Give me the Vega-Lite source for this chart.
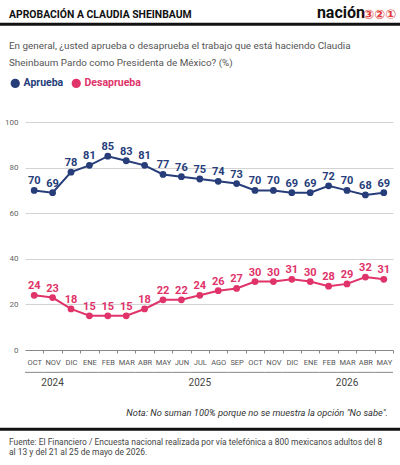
{
  "$schema": "https://vega.github.io/schema/vega-lite/v6.json",
  "width": 368,
  "height": 228,
  "autosize": {"type": "none"},
  "padding": {"left": 25, "top": 122, "right": 7, "bottom": 115},
  "background": "white",
  "config": {
    "font": "Roboto",
    "view": {"stroke": null}
  },
  "layer": [
    {
      "data": {
        "values": [
          {"periodo": "2024-10", "serie": "Aprueba", "valor": 70},
          {"periodo": "2024-11", "serie": "Aprueba", "valor": 69},
          {"periodo": "2024-12", "serie": "Aprueba", "valor": 78},
          {"periodo": "2025-01", "serie": "Aprueba", "valor": 81},
          {"periodo": "2025-02", "serie": "Aprueba", "valor": 85},
          {"periodo": "2025-03", "serie": "Aprueba", "valor": 83},
          {"periodo": "2025-04", "serie": "Aprueba", "valor": 81},
          {"periodo": "2025-05", "serie": "Aprueba", "valor": 77},
          {"periodo": "2025-06", "serie": "Aprueba", "valor": 76},
          {"periodo": "2025-07", "serie": "Aprueba", "valor": 75},
          {"periodo": "2025-08", "serie": "Aprueba", "valor": 74},
          {"periodo": "2025-09", "serie": "Aprueba", "valor": 73},
          {"periodo": "2025-10", "serie": "Aprueba", "valor": 70},
          {"periodo": "2025-11", "serie": "Aprueba", "valor": 70},
          {"periodo": "2025-12", "serie": "Aprueba", "valor": 69},
          {"periodo": "2026-01", "serie": "Aprueba", "valor": 69},
          {"periodo": "2026-02", "serie": "Aprueba", "valor": 72},
          {"periodo": "2026-03", "serie": "Aprueba", "valor": 70},
          {"periodo": "2026-04", "serie": "Aprueba", "valor": 68},
          {"periodo": "2026-05", "serie": "Aprueba", "valor": 69},
          {"periodo": "2024-10", "serie": "Desaprueba", "valor": 24},
          {"periodo": "2024-11", "serie": "Desaprueba", "valor": 23},
          {"periodo": "2024-12", "serie": "Desaprueba", "valor": 18},
          {"periodo": "2025-01", "serie": "Desaprueba", "valor": 15},
          {"periodo": "2025-02", "serie": "Desaprueba", "valor": 15},
          {"periodo": "2025-03", "serie": "Desaprueba", "valor": 15},
          {"periodo": "2025-04", "serie": "Desaprueba", "valor": 18},
          {"periodo": "2025-05", "serie": "Desaprueba", "valor": 22},
          {"periodo": "2025-06", "serie": "Desaprueba", "valor": 22},
          {"periodo": "2025-07", "serie": "Desaprueba", "valor": 24},
          {"periodo": "2025-08", "serie": "Desaprueba", "valor": 26},
          {"periodo": "2025-09", "serie": "Desaprueba", "valor": 27},
          {"periodo": "2025-10", "serie": "Desaprueba", "valor": 30},
          {"periodo": "2025-11", "serie": "Desaprueba", "valor": 30},
          {"periodo": "2025-12", "serie": "Desaprueba", "valor": 31},
          {"periodo": "2026-01", "serie": "Desaprueba", "valor": 30},
          {"periodo": "2026-02", "serie": "Desaprueba", "valor": 28},
          {"periodo": "2026-03", "serie": "Desaprueba", "valor": 29},
          {"periodo": "2026-04", "serie": "Desaprueba", "valor": 32},
          {"periodo": "2026-05", "serie": "Desaprueba", "valor": 31}
        ]
      },
      "layer": [
        {
          "mark": {"type": "line", "strokeWidth": 2},
          "encoding": {
            "x": {
              "field": "periodo",
              "type": "ordinal",
              "scale": {"type": "band", "paddingInner": 0, "paddingOuter": 0},
              "axis": {
                "title": null,
                "labelExpr": "['ENE','FEB','MAR','ABR','MAY','JUN','JUL','AGO','SEP','OCT','NOV','DIC'][toNumber(slice(datum.value, 5)) - 1]",
                "labelAngle": 0,
                "labelFontSize": 7.5,
                "labelColor": "#555",
                "labelPadding": 5,
                "labelOffset": -9.2,
                "tickSize": 3,
                "tickOffset": 9.2,
                "tickColor": "#888",
                "domainColor": "#888",
                "grid": false
              }
            },
            "y": {
              "field": "valor",
              "type": "quantitative",
              "scale": {"domain": [0, 100]},
              "axis": {
                "title": null,
                "values": [0, 20, 40, 60, 80, 100],
                "domain": false,
                "ticks": false,
                "labelPadding": 7,
                "labelFontSize": 8,
                "labelColor": "#666",
                "gridColor": "#d3d3d3"
              }
            },
            "color": {
              "field": "serie",
              "type": "nominal",
              "scale": {"domain": ["Aprueba", "Desaprueba"], "range": ["#263d7a", "#e0336a"]},
              "legend": {
                "title": null,
                "orient": "none",
                "legendX": -15,
                "legendY": -44,
                "direction": "horizontal",
                "symbolType": "circle",
                "symbolSize": 85,
                "symbolStrokeWidth": 0,
                "labelFontSize": 10.5,
                "labelFontWeight": "bold",
                "labelOffset": 3,
                "columnPadding": 7,
                "encode": {
                  "symbols": {"update": {"fill": {"scale": "color", "field": "value"}, "strokeWidth": {"value": 0}}},
                  "labels": {"update": {"fill": {"scale": "color", "field": "value"}}}
                }
              }
            }
          }
        },
        {
          "mark": {"type": "circle", "size": 46, "opacity": 1},
          "encoding": {
            "x": {"field": "periodo", "type": "ordinal"},
            "y": {"field": "valor", "type": "quantitative"},
            "color": {"field": "serie", "type": "nominal"}
          }
        },
        {
          "mark": {"type": "text", "dy": -6, "baseline": "alphabetic", "fontSize": 11, "fontWeight": "bold"},
          "encoding": {
            "x": {"field": "periodo", "type": "ordinal"},
            "y": {"field": "valor", "type": "quantitative"},
            "text": {"field": "valor", "type": "quantitative"},
            "color": {"field": "serie", "type": "nominal"}
          }
        },
        {
          "transform": [{"filter": "datum.serie == 'Aprueba'"}],
          "mark": {"type": "tick", "orient": "horizontal", "size": 18.4, "thickness": 1, "color": "#888", "opacity": 1},
          "encoding": {
            "x": {"field": "periodo", "type": "ordinal"},
            "y": {"datum": -9.8, "type": "quantitative"}
          }
        },
        {
          "data": {
            "values": [
              {"anio": "2024", "centro": "2024-11"},
              {"anio": "2025", "centro": "2025-07"},
              {"anio": "2026", "centro": "2026-03"}
            ]
          },
          "mark": {"type": "text", "fontSize": 10, "color": "#444", "baseline": "middle"},
          "encoding": {
            "x": {"field": "centro", "type": "ordinal"},
            "y": {"datum": -14.6, "type": "quantitative"},
            "text": {"field": "anio", "type": "nominal"}
          }
        }
      ]
    },
    {
      "data": {"values": [{}]},
      "layer": [
        {
          "mark": {"type": "rule", "color": "#111", "strokeWidth": 3},
          "encoding": {
            "x": {"datum": 0, "type": "quantitative", "scale": {"domain": [0, 1], "range": [-25, 375]}, "axis": null},
            "x2": {"datum": 1},
            "y": {"datum": 142.85, "type": "quantitative", "scale": {"domain": [0, 100]}, "axis": null}
          }
        },
        {
          "mark": {"type": "rule", "color": "#111", "strokeWidth": 3},
          "encoding": {
            "x": {"datum": 0, "type": "quantitative", "scale": {"domain": [0, 1], "range": [-25, 375]}, "axis": null},
            "x2": {"datum": 1},
            "y": {"datum": -34.8, "type": "quantitative", "scale": {"domain": [0, 100]}, "axis": null}
          }
        },
        {
          "mark": {"type": "text", "align": "left", "baseline": "alphabetic", "dx": 9, "fontSize": 10.4, "fontWeight": "bold", "color": "#111"},
          "encoding": {
            "x": {"datum": 0, "type": "quantitative", "scale": {"domain": [0, 1], "range": [-25, 375]}, "axis": null},
            "y": {"datum": 145.5, "type": "quantitative", "scale": {"domain": [0, 100]}, "axis": null},
            "text": {"value": "APROBACIÓN A CLAUDIA SHEINBAUM"}
          }
        },
        {
          "mark": {"type": "text", "align": "right", "baseline": "alphabetic", "dx": -35, "fontSize": 16, "fontWeight": "bold", "color": "#111"},
          "encoding": {
            "x": {"datum": 1, "type": "quantitative", "scale": {"domain": [0, 1], "range": [-25, 375]}, "axis": null},
            "y": {"datum": 145.5, "type": "quantitative", "scale": {"domain": [0, 100]}, "axis": null},
            "text": {"value": "nación"}
          }
        },
        {
          "mark": {"type": "text", "align": "right", "baseline": "alphabetic", "dx": -4, "dy": 1, "font": "DejaVu Sans", "fontSize": 13, "fontWeight": "bold", "color": "#e03a3a"},
          "encoding": {
            "x": {"datum": 1, "type": "quantitative", "scale": {"domain": [0, 1], "range": [-25, 375]}, "axis": null},
            "y": {"datum": 145.5, "type": "quantitative", "scale": {"domain": [0, 100]}, "axis": null},
            "text": {"value": "③②①"}
          }
        },
        {
          "mark": {"type": "text", "align": "left", "baseline": "alphabetic", "dx": 9, "fontSize": 9.9, "lineHeight": 16.5, "color": "#555"},
          "encoding": {
            "x": {"datum": 0, "type": "quantitative", "scale": {"domain": [0, 1], "range": [-25, 375]}, "axis": null},
            "y": {"datum": 131.9, "type": "quantitative", "scale": {"domain": [0, 100]}, "axis": null},
            "text": {"value": ["En general, ¿usted aprueba o desaprueba el trabajo que está haciendo Claudia", "Sheinbaum Pardo como Presidenta de México?  (%)"]}
          }
        },
        {
          "mark": {"type": "text", "align": "right", "baseline": "middle", "dx": -12, "fontSize": 9.3, "fontStyle": "italic", "color": "#333"},
          "encoding": {
            "x": {"datum": 1, "type": "quantitative", "scale": {"domain": [0, 1], "range": [-25, 375]}, "axis": null},
            "y": {"datum": -27.5, "type": "quantitative", "scale": {"domain": [0, 100]}, "axis": null},
            "text": {"value": "Nota: No suman 100% porque no se muestra la opción \"No sabe\"."}
          }
        },
        {
          "mark": {"type": "text", "align": "left", "baseline": "alphabetic", "dx": 9, "fontSize": 8.45, "lineHeight": 9.5, "color": "#444"},
          "encoding": {
            "x": {"datum": 0, "type": "quantitative", "scale": {"domain": [0, 1], "range": [-25, 375]}, "axis": null},
            "y": {"datum": -41.8, "type": "quantitative", "scale": {"domain": [0, 100]}, "axis": null},
            "text": {"value": ["Fuente: El Financiero /  Encuesta nacional realizada por vía telefónica a 800 mexicanos adultos del 8", "al 13  y del 21 al 25 de mayo de 2026."]}
          }
        }
      ]
    }
  ],
  "resolve": {"scale": {"x": "independent", "y": "independent"}}
}
